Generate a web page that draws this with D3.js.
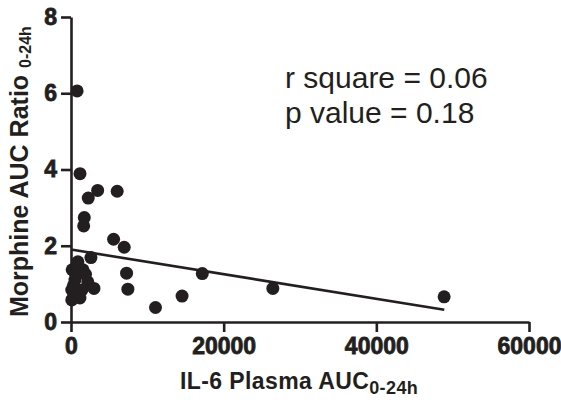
<!DOCTYPE html>
<html>
<head>
<meta charset="utf-8">
<script src="https://cdn.jsdelivr.net/npm/d3@7"></script>
<style>
  body { margin: 0; background: #fff; }
  text { font-family: "Liberation Sans", Arial, sans-serif; fill: #231f20; }
  .tick text { font-weight: 700; }
</style>
</head>
<body>
<svg width="561" height="403"></svg>
<script>
// IL-6 plasma AUC (x) vs morphine AUC ratio (y)
const il6 = [800, 1180, 3490, 6050, 2260, 1740, 1660, 5580, 6970, 2610,
  900, 150, 1570, 520, 2200, 100, 1440, 3010, 100, 1170,
  7280, 7450, 11070, 14550, 17200, 26440, 48880, 600, 300, 1900];
const ratio = [6.06, 3.89, 3.45, 3.43, 3.25, 2.74, 2.52, 2.17, 1.96, 1.69,
  1.58, 1.37, 1.37, 1.10, 1.05, 0.84, 0.84, 0.88, 0.58, 0.63,
  1.28, 0.86, 0.38, 0.68, 1.27, 0.88, 0.66, 1.25, 0.95, 1.25];
const xTicks = [0, 20000, 40000, 60000];
const yTicks = [0, 2, 4, 6, 8];
const fitIntercept = 1.9;
const fitSlope = -0.0000323;
const fitRange = [0, 48900];
const stats = ['r square = 0.06', 'p value = 0.18'];

const ink = '#231f20';
const svg = d3.select('svg');

const x = d3.scaleLinear().domain([0, 60000]).range([71, 529]);
const y = d3.scaleLinear().domain([0, 8]).range([322, 17]);

const data = il6.map((v, i) => ({x: v, y: ratio[i]}));

// axes
const xAxis = svg.append('g')
  .attr('transform', `translate(0,${y(0)})`)
  .call(d3.axisBottom(x).tickValues(xTicks).tickFormat(d3.format('d'))
    .tickSize(10).tickSizeOuter(0).tickPadding(6));
const yAxis = svg.append('g')
  .attr('transform', `translate(${x(0)},0)`)
  .call(d3.axisLeft(y).tickValues(yTicks).tickFormat(d3.format('d'))
    .tickSize(10).tickSizeOuter(0).tickPadding(4));

[xAxis, yAxis].forEach(a => {
  a.attr('font-weight', 'bold');
  a.selectAll('path, line').attr('stroke', ink).attr('stroke-width', 2.6);
  a.selectAll('text')
    .style('font-size', '23px')
    .style('font-weight', '700')
    .style('stroke', ink).style('stroke-width', '0.8px')
    .attr('fill', ink);
});

// fit line
svg.append('line')
  .attr('x1', x(fitRange[0])).attr('y1', y(fitIntercept + fitSlope * fitRange[0]))
  .attr('x2', x(fitRange[1])).attr('y2', y(fitIntercept + fitSlope * fitRange[1]))
  .attr('stroke', ink).attr('stroke-width', 2.6);

// points
svg.selectAll('circle').data(data)
  .enter().append('circle')
  .attr('cx', d => x(d.x))
  .attr('cy', d => y(d.y))
  .attr('r', 6.5)
  .attr('fill', ink);

// axis titles
const xt = svg.append('text')
  .attr('x', 180).attr('y', 389)
  .style('font-size', '23px').style('font-weight', 'bold')
  .style('letter-spacing', '0.4px');
xt.append('tspan').text('IL-6 Plasma AUC');
xt.append('tspan').attr('dy', 5).style('font-size', '18px').text('0-24h');

const yt = svg.append('text')
  .attr('transform', 'translate(28,317) rotate(-90)')
  .style('font-size', '25px').style('font-weight', 'bold');
yt.append('tspan').text('Morphine AUC Ratio ');
yt.append('tspan').attr('dy', 3).style('font-size', '16px').text('0-24h');

// stats
svg.selectAll('.stat').data(stats)
  .enter().append('text')
  .attr('class', 'stat')
  .attr('x', 285)
  .attr('y', (d, i) => 88 + i * 35)
  .style('font-size', '30px')
  .text(d => d);
</script>
</body>
</html>
